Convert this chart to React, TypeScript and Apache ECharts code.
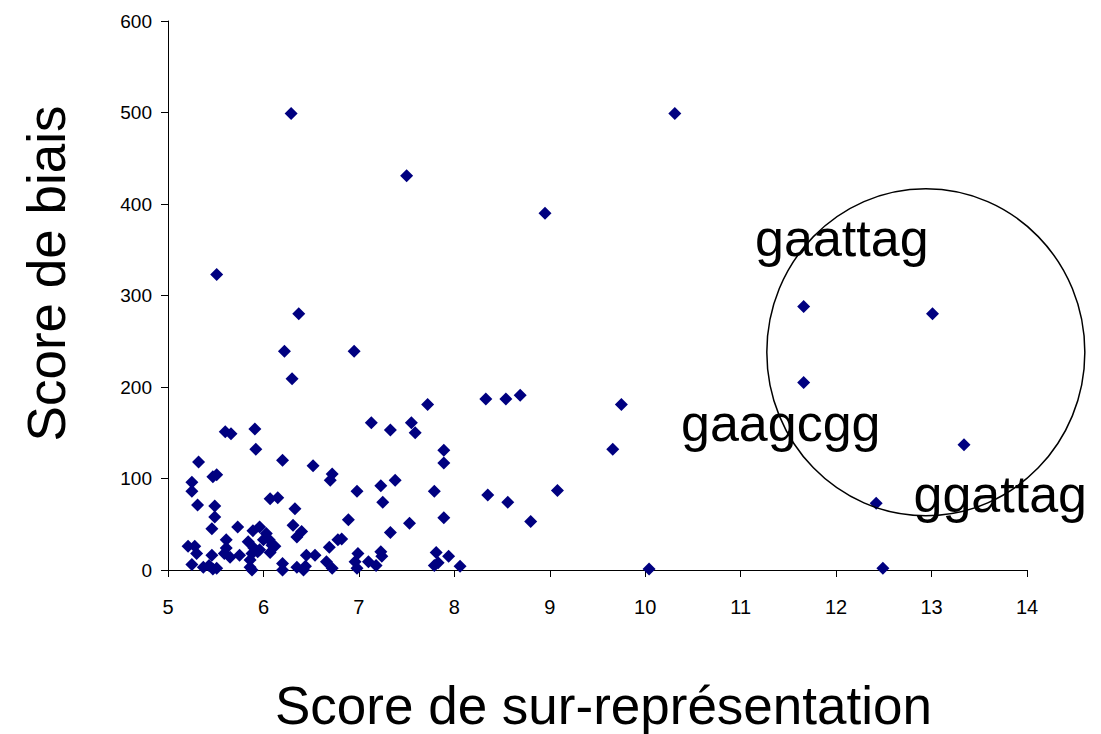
import React, { useEffect, useRef } from "react";
import * as echarts from "echarts";

// Score de sur-représentation (x) and Score de biais (y)
const scoreSurRepresentation: number[] = [
  6.29, 10.31, 7.5, 8.95, 5.51, 6.37, 11.66, 13.01, 11.66, 13.34, 12.42, 12.49, 10.04,
  6.22, 6.95, 6.3, 9.75, 9.66, 9.08, 8.8, 8.33, 8.54, 8.69, 8.35, 8.56, 8.06,
  7.72, 7.13, 7.33, 7.55, 7.59, 7.89, 7.89, 5.6, 5.66, 5.91, 5.92, 5.32, 6.2,
  6.52, 6.72, 6.7, 6.98, 7.23, 7.38, 7.79, 7.25, 6.89, 7.53, 7.89, 7.33, 6.78,
  6.99, 7.23, 7.24, 6.96, 7.1, 7.18, 6.98, 7.81, 7.94, 7.79, 7.83,
  5.25, 5.25, 5.47, 5.51, 5.31, 5.49, 5.49, 5.46, 5.73, 5.89, 5.96, 6.07, 6.15,
  6.33, 6.31, 6.4, 6.35, 6.03, 6.06, 6.09, 6.12, 6.07, 6.69, 6.45, 6.54, 6.66,
  6.2, 6.2, 6.35, 6.44, 6.42, 6.72, 5.21, 5.28, 5.3, 5.25, 5.37, 5.43, 5.47,
  5.51, 5.46, 5.61, 5.61, 5.59, 5.65, 5.75, 5.84, 5.9, 5.88, 5.94, 5.86, 5.86,
  5.88, 5.96, 6.0, 6.82,
];
const scoreBiais: number[] = [
  499, 499, 431, 390, 323, 280, 288, 280, 205, 137, 73, 2, 1,
  239, 239, 209, 181, 132, 87, 53, 187, 187, 191, 82, 74, 4,
  181, 161, 153, 161, 150, 131, 117, 151, 149, 154, 132, 118, 120,
  114, 105, 98, 86, 92, 98, 86, 74, 55, 51, 57, 41, 33,
  18, 20, 15, 9, 9, 5, 2, 19, 15, 5, 8,
  96, 86, 102, 104, 71, 70, 58, 45, 47, 43, 47, 78, 79,
  67, 49, 42, 36, 40, 33, 27, 26, 19, 25, 16, 16, 9,
  7, 0, 3, 4, 0, 2, 26, 26, 18, 6, 3, 5, 1,
  2, 16, 33, 24, 18, 14, 16, 31, 24, 18, 20, 11, 3,
  0, 22, 33, 34,
];

// Annotations (motif names) and their positions in data units
const motifNames: string[] = ["gaattag", "gaagcgg", "ggattag"];
const motifX: number[] = [12.06, 11.42, 13.72];
const motifY: number[] = [363, 161, 83];

// Circle around the highlighted motifs, in data units
const circleCenter: number[] = [12.94, 238];
const circleRadiusX = 1.666;
const circleRadiusY = 178.7;

const xTicks = { min: 5, max: 14, interval: 1 };
const yTicks = { min: 0, max: 600, interval: 100 };

const FONT = "'Liberation Sans', Arial, Helvetica, sans-serif";

export default function App() {
  const ref = useRef<HTMLDivElement>(null);

  useEffect(() => {
    if (!ref.current) return;
    const chart = echarts.init(ref.current, undefined, { renderer: "svg" });
    const points = scoreSurRepresentation.map((x, i) => [x, scoreBiais[i]]);
    const motifs = motifNames.map((n, i) => ({ name: n, value: [motifX[i], motifY[i]] }));

    chart.setOption({
      animation: false,
      backgroundColor: "#ffffff",
      grid: {
        left: 168,
        top: 21,
        right: 74,
        bottom: 164,
        containLabel: false,
        outerBoundsMode: "none",
      },
      xAxis: {
        type: "value",
        min: xTicks.min,
        max: xTicks.max,
        interval: xTicks.interval,
        name: "Score de sur-représentation",
        nameLocation: "middle",
        nameGap: 109,
        nameTextStyle: {
          fontSize: 53,
          color: "#000",
          fontFamily: FONT,
          padding: [0, 0, 0, 12],
        },
        axisLine: { show: true, onZero: false, lineStyle: { color: "#000", width: 1 } },
        axisTick: { show: true, inside: false, length: 7, lineStyle: { color: "#000" } },
        axisLabel: { fontSize: 20, color: "#000", fontFamily: FONT, margin: 27 },
        splitLine: { show: false },
      },
      yAxis: {
        type: "value",
        min: yTicks.min,
        max: yTicks.max,
        interval: yTicks.interval,
        name: "Score de biais",
        nameLocation: "middle",
        nameGap: 95,
        nameTextStyle: {
          fontSize: 53,
          color: "#000",
          fontFamily: FONT,
          padding: [0, 0, 0, 44],
        },
        axisLine: { show: true, onZero: false, lineStyle: { color: "#000", width: 1 } },
        axisTick: { show: true, inside: false, length: 7, lineStyle: { color: "#000" } },
        axisLabel: { fontSize: 19, color: "#000", fontFamily: FONT, margin: 16 },
        splitLine: { show: false },
      },
      series: [
        {
          type: "scatter",
          symbol: "diamond",
          symbolSize: 13,
          itemStyle: { color: "#000080", opacity: 1 },
          data: points,
        },
        {
          type: "scatter",
          symbolSize: 0,
          silent: true,
          itemStyle: { opacity: 1 },
          data: motifs,
          label: {
            show: true,
            position: "inside",
            formatter: "{b}",
            fontSize: 52,
            color: "#000",
            opacity: 1,
            fontFamily: FONT,
          },
          z: 5,
        },
      ],
    });

    const c = chart.convertToPixel({ gridIndex: 0 }, circleCenter) as number[];
    const e = chart.convertToPixel({ gridIndex: 0 }, [
      circleCenter[0] + circleRadiusX,
      circleCenter[1] + circleRadiusY,
    ]) as number[];
    chart.setOption({
      graphic: [
        {
          type: "ellipse",
          shape: { cx: c[0], cy: c[1], rx: Math.abs(e[0] - c[0]), ry: Math.abs(c[1] - e[1]) },
          style: { fill: "none", stroke: "#000", lineWidth: 1.5 },
          z: 10,
        },
      ],
    });

    return () => chart.dispose();
  }, []);

  return (
    <div
      ref={ref}
      style={{ position: "fixed", left: 0, top: 0, width: 1101, height: 734, background: "#fff" }}
    />
  );
}
